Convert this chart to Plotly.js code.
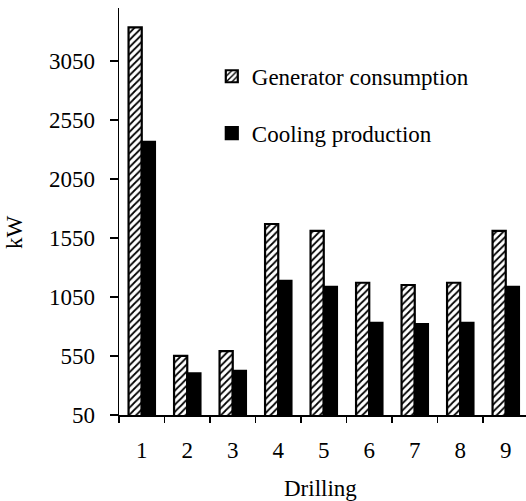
<!DOCTYPE html>
<html>
<head>
<meta charset="utf-8">
<script src="https://cdn.plot.ly/plotly-3.0.1.min.js"></script>
<style>html,body{margin:0;padding:0;background:#fff;}#chart{width:526px;height:501px;}</style>
</head>
<body>
<div id="chart"></div>
<script>
const categories = ["1","2","3","4","5","6","7","8","9"];
const generatorConsumption = [3335, 552, 592, 1669, 1610, 1171, 1152, 1171, 1610];
const coolingProduction = [2365, 403, 425, 1188, 1137, 832, 821, 832, 1137];
const seriesNames = ["Generator consumption", "Cooling production"];
const yTickVals = [50, 550, 1050, 1550, 2050, 2550, 3050];

const fontFam = "Liberation Serif, Times New Roman, serif";

const traces = [
  {
    type: "bar", x: categories, y: generatorConsumption, name: seriesNames[0],
    legendgroup: "g1",
    marker: {
      color: "white",
      line: {color: "black", width: 2.2},
      pattern: {shape: "/", fgcolor: "black", bgcolor: "white", size: 5, solidity: 0.35, fillmode: "replace"}
    }
  },
  {
    type: "bar", x: categories, y: coolingProduction, name: seriesNames[1],
    legendgroup: "g2",
    marker: {color: "black", line: {color: "black", width: 2.2}}
  }
];

const layout = {
  width: 526, height: 501,
  margin: {l: 119, r: 0, t: 8, b: 86},
  paper_bgcolor: "white", plot_bgcolor: "white",
  font: {family: fontFam, size: 23, color: "black"},
  barmode: "group", bargap: 0.42, bargroupgap: 0,
  showlegend: true,
  legend: {
    x: 0.228, y: 0.885, xanchor: "left", yanchor: "top",
    bgcolor: "rgba(0,0,0,0)", font: {family: fontFam, size: 23, color: "black"},
    tracegroupgap: 24, itemclick: false
  },
  xaxis: {
    type: "category", range: [-0.5, 8.445],
    showline: true, linecolor: "black", linewidth: 1.5,
    ticks: "outside", ticklen: 6, tickwidth: 1.5, tickcolor: "black",
    tickson: "boundaries", showgrid: false, zeroline: false,
    ticklabelstandoff: 14,
    tickfont: {family: fontFam, size: 23, color: "black"}
  },
  yaxis: {
    range: [50, 3500],
    tickvals: yTickVals, ticktext: yTickVals.map(String),
    showline: true, linecolor: "black", linewidth: 1.5,
    ticks: "outside", ticklen: 8, tickwidth: 1.5, tickcolor: "black",
    showgrid: false, zeroline: false,
    ticklabelstandoff: 10,
    tickfont: {family: fontFam, size: 23, color: "black"}
  },
  annotations: [
    {text: "kW", xref: "paper", yref: "paper", x: -0.255, y: 0.45, textangle: -90,
     showarrow: false, xanchor: "center", yanchor: "middle", font: {family: fontFam, size: 23, color: "black"}},
    {text: "Drilling", xref: "paper", yref: "paper", x: 0.494, y: -0.181,
     showarrow: false, xanchor: "center", yanchor: "middle", font: {family: fontFam, size: 23, color: "black"}}
  ]
};

Plotly.newPlot("chart", traces, layout, {displayModeBar: false, staticPlot: true});
</script>
</body>
</html>
